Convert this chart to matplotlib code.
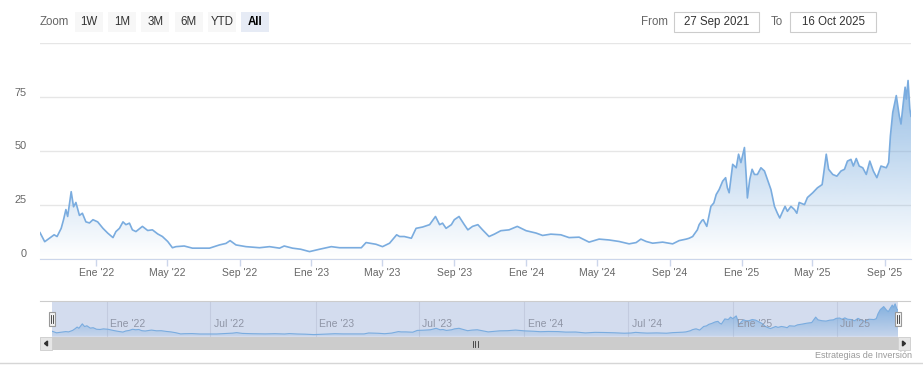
import matplotlib.pyplot as plt
import matplotlib.dates as mdates
import matplotlib.colors as mcolors
from matplotlib.patches import Rectangle, Polygon
import numpy as np
import pandas as pd

plt.rcParams['font.family'] = ['Liberation Sans', 'DejaVu Sans']

# price series
dates = [
    '2021-09-27', '2021-10-05', '2021-10-13', '2021-10-21', '2021-10-26', '2021-11-02',
    '2021-11-06', '2021-11-10', '2021-11-13', '2021-11-19', '2021-11-23', '2021-11-27',
    '2021-12-03', '2021-12-08', '2021-12-14', '2021-12-20', '2021-12-26', '2022-01-03',
    '2022-01-12', '2022-01-20', '2022-01-29', '2022-02-03', '2022-02-09', '2022-02-15',
    '2022-02-20', '2022-02-26', '2022-03-03', '2022-03-09', '2022-03-20', '2022-03-29',
    '2022-04-06', '2022-04-15', '2022-04-23', '2022-05-02', '2022-05-10', '2022-05-16',
    '2022-05-30', '2022-06-13', '2022-06-25', '2022-07-12', '2022-07-29', '2022-08-09',
    '2022-08-16', '2022-08-26', '2022-09-12', '2022-10-05', '2022-10-22', '2022-11-08',
    '2022-11-16', '2022-11-30', '2022-12-14', '2022-12-29', '2023-01-15', '2023-02-04',
    '2023-02-18', '2023-03-07', '2023-03-27', '2023-04-04', '2023-04-21', '2023-05-02',
    '2023-05-14', '2023-05-26', '2023-05-31', '2023-06-08', '2023-06-20', '2023-06-28',
    '2023-07-09', '2023-07-21', '2023-07-31', '2023-08-07', '2023-08-12', '2023-08-18',
    '2023-08-27', '2023-09-01', '2023-09-09', '2023-09-18', '2023-09-24', '2023-10-02',
    '2023-10-11', '2023-10-19', '2023-10-30', '2023-11-08', '2023-11-19', '2023-12-03',
    '2023-12-17', '2024-01-01', '2024-01-18', '2024-01-29', '2024-02-12', '2024-02-29',
    '2024-03-14', '2024-03-31', '2024-04-17', '2024-05-04', '2024-05-21', '2024-06-07',
    '2024-06-24', '2024-07-06', '2024-07-14', '2024-07-23', '2024-08-03', '2024-08-20',
    '2024-09-06', '2024-09-17', '2024-09-29', '2024-10-04', '2024-10-10', '2024-10-12',
    '2024-10-18', '2024-10-21', '2024-10-26', '2024-10-28', '2024-11-03', '2024-11-10',
    '2024-11-15', '2024-11-19', '2024-11-24', '2024-11-30', '2024-12-05', '2024-12-08',
    '2024-12-11', '2024-12-17', '2024-12-23', '2024-12-27', '2024-12-31', '2025-01-06',
    '2025-01-09', '2025-01-11', '2025-01-15', '2025-01-19', '2025-01-23', '2025-01-28',
    '2025-02-03', '2025-02-09', '2025-02-14', '2025-02-20', '2025-02-26', '2025-03-03',
    '2025-03-07', '2025-03-12', '2025-03-16', '2025-03-20', '2025-03-26', '2025-04-01',
    '2025-04-05', '2025-04-09', '2025-04-18', '2025-04-23', '2025-05-02', '2025-05-10',
    '2025-05-18', '2025-05-20', '2025-05-25', '2025-05-29', '2025-06-05', '2025-06-12',
    '2025-06-19', '2025-06-25', '2025-06-30', '2025-07-06', '2025-07-10', '2025-07-15',
    '2025-07-20', '2025-07-26', '2025-08-01', '2025-08-07', '2025-08-13', '2025-08-19',
    '2025-08-26', '2025-09-04', '2025-09-08', '2025-09-11', '2025-09-15', '2025-09-21',
    '2025-09-26', '2025-09-29', '2025-10-03', '2025-10-06', '2025-10-08', '2025-10-11',
    '2025-10-14', '2025-10-16',
]
values = [
    12.0, 7.8, 9.4, 11.0, 10.2, 14.0,
    18.0, 22.7, 19.5, 31.0, 24.0, 26.0,
    20.0, 21.0, 17.0, 16.5, 18.0, 17.0,
    14.0, 11.8, 9.7, 12.5, 14.0, 17.0,
    15.7, 16.4, 13.3, 12.5, 14.9, 13.0,
    13.3, 11.4, 10.2, 7.9, 5.0, 5.5,
    5.8, 4.8, 4.8, 4.8, 6.3, 7.0,
    8.3, 6.3, 5.5, 5.0, 5.5, 4.8,
    5.8, 4.8, 4.3, 3.2, 4.3, 5.5,
    5.0, 5.0, 5.0, 7.4, 6.6, 5.5,
    7.1, 11.0, 10.2, 10.2, 9.4, 14.0,
    14.6, 15.7, 19.5, 15.7, 16.4, 14.0,
    15.7, 18.0, 19.5, 15.7, 13.3, 14.9,
    15.7, 13.3, 10.2, 11.3, 12.9, 13.3,
    14.9, 12.9, 11.8, 10.7, 11.3, 11.0,
    9.7, 9.9, 7.6, 9.0, 8.6, 7.9,
    6.8, 7.4, 9.0, 7.9, 7.1, 7.6,
    6.8, 8.3, 9.0, 9.4, 10.2, 11.0,
    13.3, 15.7, 17.7, 18.0, 14.9, 24.2,
    25.8, 29.7, 32.0, 35.9, 37.5, 32.8,
    30.5, 43.7, 42.1, 48.4, 44.5, 51.5,
    38.2, 28.1, 36.7, 41.4, 39.0, 39.0,
    42.1, 40.6, 36.7, 32.0, 24.2, 21.0,
    18.8, 21.9, 24.2, 21.9, 24.2, 22.7,
    21.0, 26.0, 25.0, 28.3, 30.5, 32.8,
    34.3, 38.2, 48.4, 41.4, 39.0, 38.2,
    40.6, 41.4, 45.2, 46.0, 42.9, 46.4,
    42.9, 42.1, 39.0, 45.2, 40.6, 37.5,
    42.9, 42.1, 44.5, 56.9, 67.8, 75.6,
    66.3, 62.4, 72.5, 79.5, 74.0, 82.6,
    69.4, 66.0,
]

main_ticks = ['2022-01-01', '2022-05-01', '2022-09-01', '2023-01-01', '2023-05-01',
              '2023-09-01', '2024-01-01', '2024-05-01', '2024-09-01', '2025-01-01',
              '2025-05-01', '2025-09-01']
main_labels = ["Ene '22", "May '22", "Sep '22", "Ene '23", "May '23", "Sep '23",
               "Ene '24", "May '24", "Sep '24", "Ene '25", "May '25", "Sep '25"]
nav_ticks = ['2022-01-01', '2022-07-01', '2023-01-01', '2023-07-01', '2024-01-01',
             '2024-07-01', '2025-01-01', '2025-07-01']
nav_labels = ["Ene '22", "Jul '22", "Ene '23", "Jul '23", "Ene '24", "Jul '24",
              "Ene '25", "Jul '25"]
y_ticks = [0, 25, 50, 75]
buttons = ['1W', '1M', '3M', '6M', 'YTD', 'All']
from_date = '27 Sep 2021'
to_date = '16 Oct 2025'
credit = 'Estrategias de Inversión'

W, H = 923, 383
LINE = '#7aacdf'
FILL = '#72a7dc'


def fx(x):
    return x / W


def fy(y):
    return 1 - y / H


def gradient_fill(ax, x, y, ytop, alpha_top, alpha_bottom):
    poly = ax.fill_between(x, y, 0, color='none', lw=0)
    path = poly.get_paths()[0]
    grad = np.zeros((256, 1, 4))
    grad[:, :, :3] = mcolors.to_rgb(FILL)
    grad[:, 0, 3] = np.linspace(alpha_top, alpha_bottom, 256)
    im = ax.imshow(grad, aspect='auto', origin='upper',
                   extent=[x[0], x[-1], 0, ytop], zorder=1)
    im.set_clip_path(path, transform=ax.transData)


x = mdates.date2num(pd.to_datetime(dates))
y = np.array(values)

fig = plt.figure(figsize=(W / 100, H / 100), dpi=100)

# main chart
ax = fig.add_axes([fx(40), fy(258.5), fx(911) - fx(40), fy(43) - fy(258.5)])
gradient_fill(ax, x, y, 95, 0.85, 0.0)
ax.plot(x, y, color=LINE, lw=1.2, zorder=3)
ax.set_xlim(x[0], x[-1])
ax.set_ylim(0, 100)
for s in ['top', 'left', 'right']:
    ax.spines[s].set_visible(False)
ax.spines['bottom'].set_color('#ccd6eb')
ax.set_yticks([0, 25, 50, 75, 100])
ax.tick_params(axis='y', length=0, labelleft=False)
ax.grid(axis='y', color='#e6e6e6', lw=1)
ax.set_axisbelow(True)
for v in y_ticks:
    ax.text(-0.015, v + 2.0, str(v), transform=ax.get_yaxis_transform(),
            ha='right', va='center', fontsize=7.8, color='#666666')
ax.set_xticks(mdates.date2num(pd.to_datetime(main_ticks)))
ax.set_xticklabels(main_labels)
ax.tick_params(axis='x', length=5, width=1, color='#ccd6eb', pad=2,
               labelsize=7.5, labelcolor='#666666')

# navigator
nav = fig.add_axes([fx(52), fy(337), fx(898) - fx(52), fy(301) - fy(337)])
nav.set_facecolor('#d3dcee')
gradient_fill(nav, x, y, 90, 0.9, 0.15)
nav.plot(x, y, color=LINE, lw=0.8, zorder=3)
nav.set_xlim(x[0], x[-1])
nav.set_ylim(-3, 90)
nav.set_xticks(mdates.date2num(pd.to_datetime(nav_ticks)))
nav.tick_params(length=0, labelbottom=False, labelleft=False)
nav.set_yticks([])
nav.grid(axis='x', color='#c3cbdf', lw=0.8)
nav.set_axisbelow(True)
for s in nav.spines.values():
    s.set_visible(False)
for t, lab in zip(mdates.date2num(pd.to_datetime(nav_ticks)), nav_labels):
    nav.text(t + 6, 0.36, lab, transform=nav.get_xaxis_transform(),
             ha='left', va='center', fontsize=7.5, color='#8f95a6', zorder=4)

# overlay for the controls, scrollbar and credit (pixel coordinates)
ov = fig.add_axes([0, 0, 1, 1], zorder=5)
ov.set_xlim(0, W)
ov.set_ylim(H, 0)
ov.axis('off')
ov.patch.set_alpha(0)

ov.text(40, 22, 'Zoom', ha='left', va='center', fontsize=8.3, color='#666666')
for i, b in enumerate(buttons):
    bx = 75 + i * 33.2
    sel = b == 'All'
    ov.add_patch(Rectangle((bx, 12), 28, 20, facecolor='#e6ebf5' if sel else '#f7f7f7',
                           edgecolor='none'))
    ov.text(bx + 14, 22, b, ha='center', va='center', fontsize=8.3,
            color='#000000' if sel else '#333333', fontweight='bold' if sel else 'normal')

ov.text(654.5, 22, 'From', ha='center', va='center', fontsize=8.3, color='#666666')
ov.add_patch(Rectangle((674, 12), 85, 20, facecolor='white', edgecolor='#cccccc', lw=0.8))
ov.text(716.5, 22, from_date, ha='center', va='center', fontsize=8.3, color='#333333')
ov.text(776.5, 22, 'To', ha='center', va='center', fontsize=8.3, color='#666666')
ov.add_patch(Rectangle((790, 12), 86, 20, facecolor='white', edgecolor='#cccccc', lw=0.8))
ov.text(833, 22, to_date, ha='center', va='center', fontsize=8.3, color='#333333')

# navigator outline and handles
ov.plot([40, 910], [301, 301], color='#cccccc', lw=0.8)
for hx in [49, 895]:
    ov.add_patch(Rectangle((hx, 312), 6, 14, facecolor='#f2f2f2', edgecolor='#999999', lw=0.8))
    ov.plot([hx + 2.3, hx + 2.3], [315, 323], color='#333333', lw=0.6)
    ov.plot([hx + 3.7, hx + 3.7], [315, 323], color='#333333', lw=0.6)

# scrollbar
ov.add_patch(Rectangle((40, 337), 870, 13, facecolor='#f2f2f2', edgecolor='none'))
ov.add_patch(Rectangle((52, 337), 846, 13, facecolor='#cccccc', edgecolor='none'))
ov.add_patch(Rectangle((40, 337), 12, 13, facecolor='#e6e6e6', edgecolor='#cccccc', lw=0.6))
ov.add_patch(Rectangle((898, 337), 12, 13, facecolor='#e6e6e6', edgecolor='#cccccc', lw=0.6))
ov.add_patch(Polygon([[44.5, 343.5], [47.5, 341], [47.5, 346]], closed=True, color='#333333'))
ov.add_patch(Polygon([[905.5, 343.5], [902.5, 341], [902.5, 346]], closed=True, color='#333333'))
for gx in [472.5, 475, 477.5]:
    ov.plot([gx, gx], [340.5, 346.5], color='#333333', lw=0.6)

# bottom rule and credit
ov.plot([0, W], [363, 363], color='#d6d6d6', lw=1)
ov.text(912, 355, credit, ha='right', va='center', fontsize=6.5, color='#999999')

fig.savefig('out.png', dpi=100)
